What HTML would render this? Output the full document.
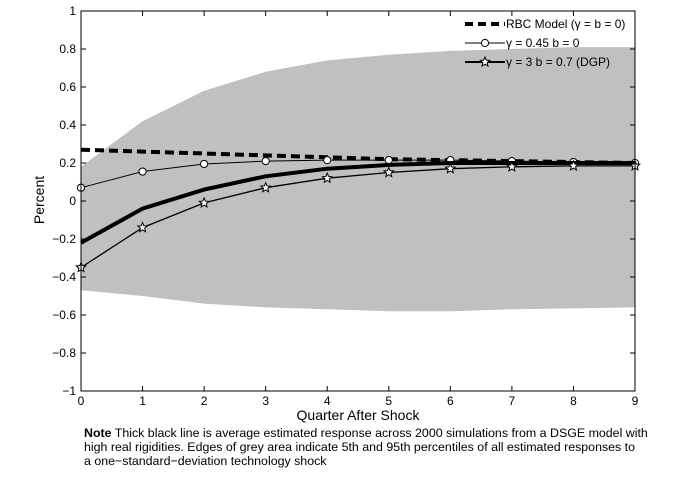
<!DOCTYPE html>
<html><head><meta charset="utf-8"><style>
body{margin:0;background:#fff;width:681px;height:485px;overflow:hidden;font-family:"Liberation Sans",sans-serif}
svg text{font-family:"Liberation Sans",sans-serif}
</style></head><body>
<svg id="chart" width="681" height="485" xmlns="http://www.w3.org/2000/svg"></svg>
<script>
const quarters=[0,1,2,3,4,5,6,7,8,9];
const bandUpper=[0.18,0.42,0.58,0.68,0.74,0.77,0.79,0.80,0.81,0.81];
const bandLower=[-0.47,-0.50,-0.54,-0.56,-0.57,-0.58,-0.58,-0.57,-0.565,-0.56];
const rbc=[0.27,0.26,0.25,0.24,0.23,0.22,0.215,0.21,0.205,0.20];
const gamma045=[0.07,0.155,0.195,0.21,0.215,0.215,0.215,0.21,0.205,0.20];
const meanResp=[-0.22,-0.04,0.06,0.13,0.17,0.19,0.20,0.20,0.20,0.20];
const dgp=[-0.35,-0.14,-0.01,0.07,0.12,0.15,0.17,0.18,0.185,0.185];
const yTicks=[1,0.8,0.6,0.4,0.2,0,-0.2,-0.4,-0.6,-0.8,-1];
const yTickLabels=["1","0.8","0.6","0.4","0.2","0","\u22120.2","\u22120.4","\u22120.6","\u22120.8","\u22121"];
const L=81,R=635,T=11,B=391;
const xs=v=>L+(v-0)/(9-0)*(R-L);
const ys=v=>T+(1-v)/2*(B-T);
const NS="http://www.w3.org/2000/svg";
const svg=document.getElementById('chart');
function mk(tag,attrs,parent){const e=document.createElementNS(NS,tag);for(const k in attrs)e.setAttribute(k,attrs[k]);(parent||svg).appendChild(e);return e;}
let d=quarters.map((q,i)=>(i?'L':'M')+xs(q)+','+ys(bandUpper[i])).join('')+quarters.slice().reverse().map((q,j)=>{const i=quarters.length-1-j;return 'L'+xs(q)+','+ys(bandLower[i]);}).join('')+'Z';
const band=mk('path',{d:d,fill:'#c0c0c0'});


function line(arr,attrs,name){const p=mk('path',Object.assign({d:quarters.map((q,i)=>(i?'L':'M')+xs(q)+','+ys(arr[i])).join(''),fill:'none'},attrs));

return p;}
line(rbc,{stroke:'#000','stroke-width':4,'stroke-dasharray':'9,5'},'rbc-line');
line(gamma045,{stroke:'#000','stroke-width':1},'gamma-045-line');
quarters.forEach((q,i)=>{const c=mk('circle',{cx:xs(q),cy:ys(gamma045[i]),r:3.6,fill:'#fff',stroke:'#000','stroke-width':1});

});
line(meanResp,{stroke:'#000','stroke-width':4},'mean-response-line');
line(dgp,{stroke:'#000','stroke-width':1.3},'dgp-line');
function star(cx,cy,r){let p='';for(let k=0;k<10;k++){const a=-Math.PI/2+k*Math.PI/5;const rr=k%2?r*0.45:r;p+=(k?'L':'M')+(cx+rr*Math.cos(a))+','+(cy+rr*Math.sin(a));}return p+'Z';}
quarters.forEach((q,i)=>{const s=mk('path',{d:star(xs(q),ys(dgp[i]),5),fill:'#fff',stroke:'#000','stroke-width':1});

});
const box=mk('rect',{x:L,y:T,width:R-L,height:B-T,fill:'none',stroke:'#000','stroke-width':1});


yTicks.forEach((v,i)=>{mk('line',{x1:L,x2:L+5,y1:ys(v),y2:ys(v),stroke:'#000'});mk('line',{x1:R,x2:R-5,y1:ys(v),y2:ys(v),stroke:'#000'});
const t=mk('text',{x:L-5,y:ys(v)+4,'text-anchor':'end','font-size':12});t.textContent=yTickLabels[i];

});
quarters.forEach(q=>{mk('line',{x1:xs(q),x2:xs(q),y1:B,y2:B-5,stroke:'#000'});mk('line',{x1:xs(q),x2:xs(q),y1:T,y2:T+5,stroke:'#000'});
const t=mk('text',{x:xs(q),y:B+14,'text-anchor':'middle','font-size':12});t.textContent=String(q);

});
const xt=mk('text',{x:358,y:420,'text-anchor':'middle','font-size':14});xt.textContent='Quarter After Shock';


const yt=mk('text',{x:44,y:200,'text-anchor':'middle','font-size':14,transform:'rotate(-90 44 200)'});yt.textContent='Percent';


const lg=mk('g',{});


mk('line',{x1:465,x2:505,y1:24,y2:24,stroke:'#000','stroke-width':4,'stroke-dasharray':'8,5'},lg);
mk('line',{x1:465,x2:505,y1:43,y2:43,stroke:'#000','stroke-width':1},lg);
mk('circle',{cx:485,cy:43,r:3.6,fill:'#fff',stroke:'#000'},lg);
mk('line',{x1:465,x2:505,y1:62,y2:62,stroke:'#000','stroke-width':2},lg);
mk('path',{d:star(485,62,5),fill:'#fff',stroke:'#000'},lg);
[['RBC Model (\u03b3 = b = 0)',28],['\u03b3 = 0.45 b = 0',47],['\u03b3 = 3 b = 0.7 (DGP)',66]].forEach(([s,y])=>{const t=mk('text',{x:506,y:y,'font-size':12},lg);t.textContent=s;

});
const notes=[[' Note',' Thick black line is average estimated response across 2000 simulations from a DSGE model with'],['','high real rigidities.  Edges of grey area indicate 5th and 95th percentiles of all estimated responses to'],['','a one\u2212standard\u2212deviation technology shock']];
notes.forEach((n,i)=>{const t=mk('text',{x:84,y:437+i*14,'font-size':12.4});


if(n[0]){const b=mk('tspan',{'font-weight':'bold'},t);b.textContent='Note';}
const s=mk('tspan',{},t);s.textContent=n[1];});
</script>
</body></html>
